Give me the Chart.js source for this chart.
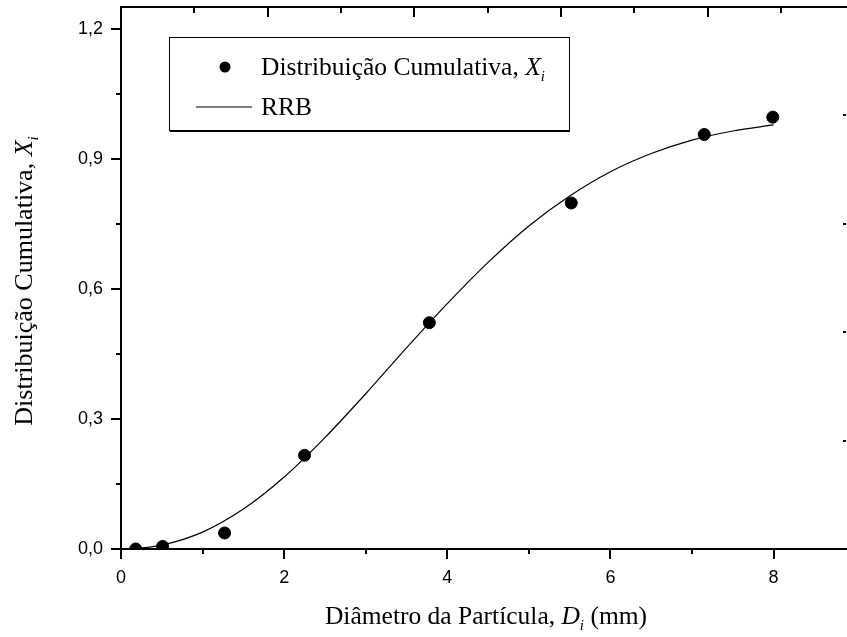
<!DOCTYPE html>
<html>
<head>
<meta charset="utf-8">
<script src="https://cdn.jsdelivr.net/npm/chart.js@4.4.0/dist/chart.umd.min.js"></script>
<style>
  html, body { margin: 0; padding: 0; background: #fff; }
  #caixa { width: 847px; height: 637px; }
</style>
</head>
<body>
<div id="caixa"><canvas id="grafico"></canvas></div>
<script>
const diametro = [0.18, 0.51, 1.27, 2.25, 3.78, 5.52, 7.15, 7.99]
const distribuicao = [0.000, 0.006, 0.037, 0.216, 0.522, 0.798, 0.956, 0.996]

// curva RRB
const diametroRRB = [0.18, 0.5, 1.0, 1.5, 2.0, 2.5, 3.0, 3.5, 4.0, 4.5, 5.0, 5.5, 6.0, 6.5, 7.0, 7.5, 8.0]
const distribuicaoRRB = [0.001, 0.009, 0.039, 0.092, 0.166, 0.257, 0.358, 0.464, 0.566, 0.661, 0.745, 0.814, 0.870, 0.912, 0.943, 0.964, 0.978]

// marcas dos eixos
const ticksX = [0, 2, 4, 6, 8]
const ticksXmenor = [1, 3, 5, 7]
const ticksY = [0, 0.3, 0.6, 0.9, 1.2]
const ticksYmenor = [0.15, 0.45, 0.75, 1.05]
const ticksTopo = [0, 1, 2, 3, 4]
const ticksTopoMenor = [0.5, 1.5, 2.5, 3.5, 4.5]
const ticksDireita = [1, 2, 3, 4]

const serif = "'Liberation Serif', 'Times New Roman', serif"
const sans = "'Liberation Sans', Arial, sans-serif"

// escreve texto com partes em fontes diferentes (itálico, subscrito)
function textoRico(ctx, partes, x, y, alinhar) {
  let total = 0
  partes.forEach(p => { ctx.font = p.fonte; p.w = ctx.measureText(p.t).width; total += p.w })
  let cx = alinhar == 'center' ? x - total / 2 : x
  ctx.textAlign = 'left'
  ctx.textBaseline = 'alphabetic'
  partes.forEach(p => { ctx.font = p.fonte; ctx.fillText(p.t, cx, y + (p.dy || 0)); cx += p.w })
}

// sem folga extra das escalas: a área do gráfico fica onde o padding manda
function semFolga(s) {
  s.paddingTop = 0; s.paddingBottom = 0; s.paddingLeft = 0; s.paddingRight = 0
}

const moldura = {
  id: 'moldura',
  afterDraw(chart) {
    const ctx = chart.ctx
    const a = chart.chartArea
    const sx = chart.scales.x, sy = chart.scales.y
    const st = chart.scales.xTopo, sd = chart.scales.yDireita
    ctx.save()
    ctx.strokeStyle = '#000'
    ctx.fillStyle = '#000'
    ctx.lineWidth = 2

    // eixo de cima
    ctx.beginPath(); ctx.moveTo(a.left - 1, a.top); ctx.lineTo(a.right, a.top); ctx.stroke()
    ticksTopo.forEach(v => {
      const px = Math.round(st.getPixelForValue(v))
      ctx.beginPath(); ctx.moveTo(px, a.top); ctx.lineTo(px, a.top + 10); ctx.stroke()
    })
    ticksTopoMenor.forEach(v => {
      const px = Math.round(st.getPixelForValue(v))
      ctx.beginPath(); ctx.moveTo(px, a.top); ctx.lineTo(px, a.top + 6); ctx.stroke()
    })
    // marcas da direita
    ticksDireita.forEach(v => {
      const py = Math.round(sd.getPixelForValue(v))
      ctx.beginPath(); ctx.moveTo(a.right - 4, py); ctx.lineTo(a.right - 1, py); ctx.stroke()
    })
    // marcas menores
    ticksXmenor.forEach(v => {
      const px = Math.round(sx.getPixelForValue(v))
      ctx.beginPath(); ctx.moveTo(px, a.bottom); ctx.lineTo(px, a.bottom + 5); ctx.stroke()
    })
    ticksYmenor.forEach(v => {
      const py = Math.round(sy.getPixelForValue(v))
      ctx.beginPath(); ctx.moveTo(a.left, py); ctx.lineTo(a.left - 5, py); ctx.stroke()
    })

    // legenda
    ctx.lineWidth = 1
    ctx.strokeRect(169.5, 37.5, 400, 93)
    ctx.beginPath(); ctx.moveTo(170, 131.5); ctx.lineTo(570, 131.5); ctx.stroke()
    ctx.beginPath(); ctx.arc(225, 67, 5.5, 0, Math.PI * 2); ctx.fill()
    ctx.lineWidth = 1.2
    ctx.beginPath(); ctx.moveTo(196, 107); ctx.lineTo(252, 107); ctx.stroke()
    const ds = chart.data.datasets
    textoRico(ctx, [
      { t: ds[0].label + ', ', fonte: '25.5px ' + serif },
      { t: 'X', fonte: 'italic 25.5px ' + serif },
      { t: 'i', fonte: 'italic 15px ' + serif, dy: 6 }
    ], 261, 75)
    textoRico(ctx, [{ t: ds[1].label, fonte: '25.5px ' + serif }], 261, 115)

    // títulos dos eixos
    textoRico(ctx, [
      { t: 'Diâmetro da Partícula, ', fonte: '25.5px ' + serif },
      { t: 'D', fonte: 'italic 25.5px ' + serif },
      { t: 'i', fonte: 'italic 15px ' + serif, dy: 6 },
      { t: ' (mm)', fonte: '25.5px ' + serif }
    ], 486, 624, 'center')
    ctx.translate(32, 281)
    ctx.rotate(-Math.PI / 2)
    textoRico(ctx, [
      { t: 'Distribuição Cumulativa, ', fonte: '26px ' + serif },
      { t: 'X', fonte: 'italic 26px ' + serif },
      { t: 'i', fonte: 'italic 15px ' + serif, dy: 6 }
    ], 0, 0, 'center')
    ctx.restore()
  }
}

const pontos = diametro.map((d, i) => ({ x: d, y: distribuicao[i] }))
const curva = diametroRRB.map((d, i) => ({ x: d, y: distribuicaoRRB[i] }))

new Chart(document.getElementById('grafico'), {
  type: 'scatter',
  data: {
    datasets: [
      {
        label: 'Distribuição Cumulativa',
        data: pontos,
        pointRadius: 6,
        pointHoverRadius: 6,
        backgroundColor: '#000',
        borderColor: '#000',
        showLine: false
      },
      {
        label: 'RRB',
        data: curva,
        showLine: true,
        pointRadius: 0,
        borderColor: '#000',
        borderWidth: 1.2,
        cubicInterpolationMode: 'monotone'
      }
    ]
  },
  options: {
    responsive: true,
    maintainAspectRatio: false,
    animation: false,
    devicePixelRatio: 1,
    layout: { autoPadding: false, padding: { top: 7, right: 0, left: 0, bottom: 0 } },
    plugins: { legend: { display: false }, tooltip: { enabled: false } },
    scales: {
      x: {
        type: 'linear',
        position: 'bottom',
        min: 0,
        max: 8.9,
        afterBuildTicks: s => { s.ticks = ticksX.map(v => ({ value: v })) },
        afterFit: s => { s.height = 88; semFolga(s) },
        grid: { drawOnChartArea: false, drawTicks: true, tickLength: 10, color: '#000', lineWidth: 2 },
        border: { color: '#000', width: 2 },
        ticks: { color: '#000', font: { family: sans, size: 18 }, padding: 8, maxRotation: 0, callback: v => v }
      },
      y: {
        type: 'linear',
        position: 'left',
        min: 0,
        max: 1.25,
        afterBuildTicks: s => { s.ticks = ticksY.map(v => ({ value: v })) },
        afterFit: s => { s.width = 121; semFolga(s) },
        grid: { drawOnChartArea: false, drawTicks: true, tickLength: 10, color: '#000', lineWidth: 2 },
        border: { color: '#000', width: 2 },
        ticks: { color: '#000', font: { family: sans, size: 18 }, padding: 8, callback: v => v.toFixed(1).replace('.', ',') }
      },
      xTopo: { type: 'linear', position: 'top', display: false, min: 0, max: 4.95 },
      yDireita: { type: 'linear', position: 'right', display: false, min: 0, max: 5 }
    }
  },
  plugins: [moldura]
})
</script>
</body>
</html>
